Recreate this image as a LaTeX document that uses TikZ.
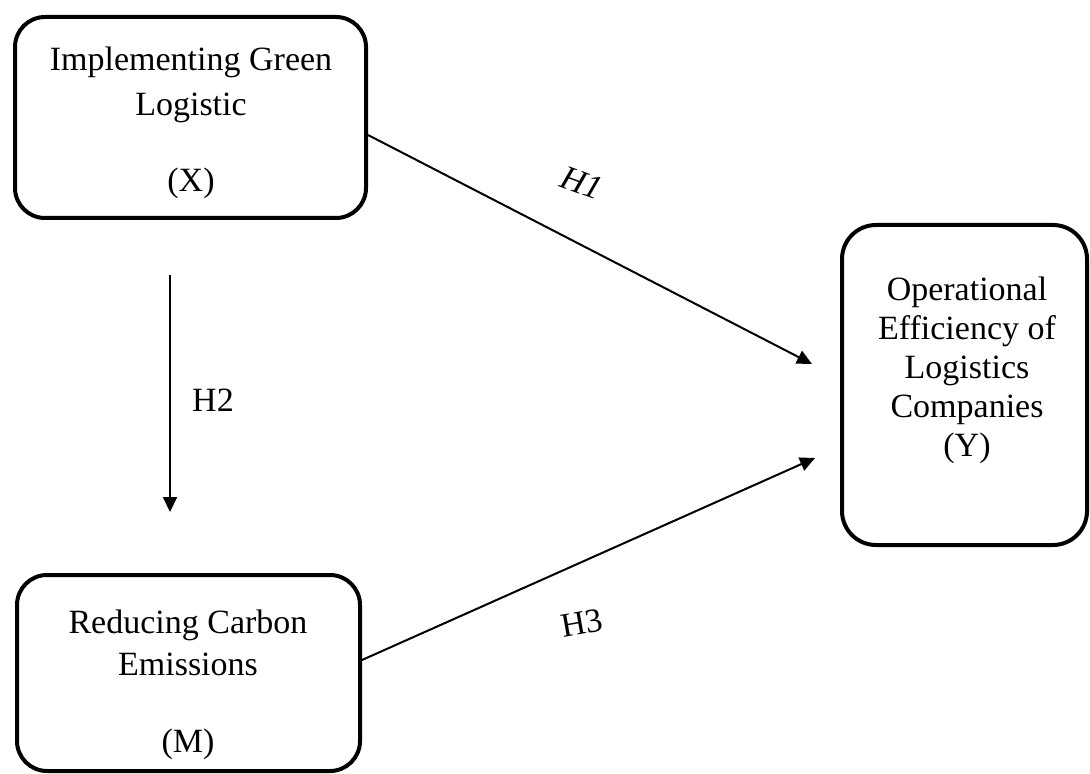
\documentclass[tikz,border=0pt]{standalone}
\usepackage{fontspec}
\setmainfont{Liberation Serif}
\usetikzlibrary{arrows.meta,positioning}

\begin{document}
\begin{tikzpicture}[
    x=0.5pt, y=-0.5pt,
    varbox/.style={rectangle, draw, line width=2pt, rounded corners=15pt},
    boxtext/.style={align=center, font=\fontsize{17}{19.5}\selectfont},
    link/.style={-{Triangle[length=7.5pt,width=7pt]}, line width=1pt},
    hyp/.style={font=\fontsize{17}{19.5}\selectfont}
]
\useasboundingbox (0,0) rectangle (1090,774);

% Independent variable (X)
\node[varbox, minimum width=175.5pt, minimum height=100.5pt] (X) at (190.5,117.5) {};
\node[boxtext] (X-text) at (191,122.5) {Implementing Green\\[3pt]Logistic\\[18.5pt](X)};

% Mediator (M)
\node[varbox, minimum width=171.5pt, minimum height=98pt] (M) at (188.5,673) {};
\node[boxtext] (M-text) at (188,685) {Reducing Carbon\\[1.5pt]Emissions\\[19pt](M)};

% Dependent variable (Y)
\node[varbox, rounded corners=17pt, minimum width=122.5pt, minimum height=160pt] (Y) at (964.5,385) {};
\node[boxtext] (Y-text) at (967,370) {Operational\\Efficiency of\\Logistics\\Companies\\(Y)};

% Arrow ends
\coordinate (h1-end) at (812,364);
\coordinate (h3-end) at (815,458);
\coordinate (h2-top) at (170,275);
\coordinate (h2-bot) at (170,512);

% Hypotheses
\draw[link] ([yshift=-8.75pt]X.east) -- (h1-end);
\draw[link] (h2-top) -- (h2-bot);
\draw[link] ([yshift=6.5pt]M.east) -- (h3-end);

\node[hyp, rotate=-20] (h1-label) at (582,183) {\itshape H1};
\node[hyp] (h2-label) at (213,400) {H2};
\node[hyp, rotate=10] (h3-label) at (582,623) {H3};

\end{tikzpicture}
\end{document}
